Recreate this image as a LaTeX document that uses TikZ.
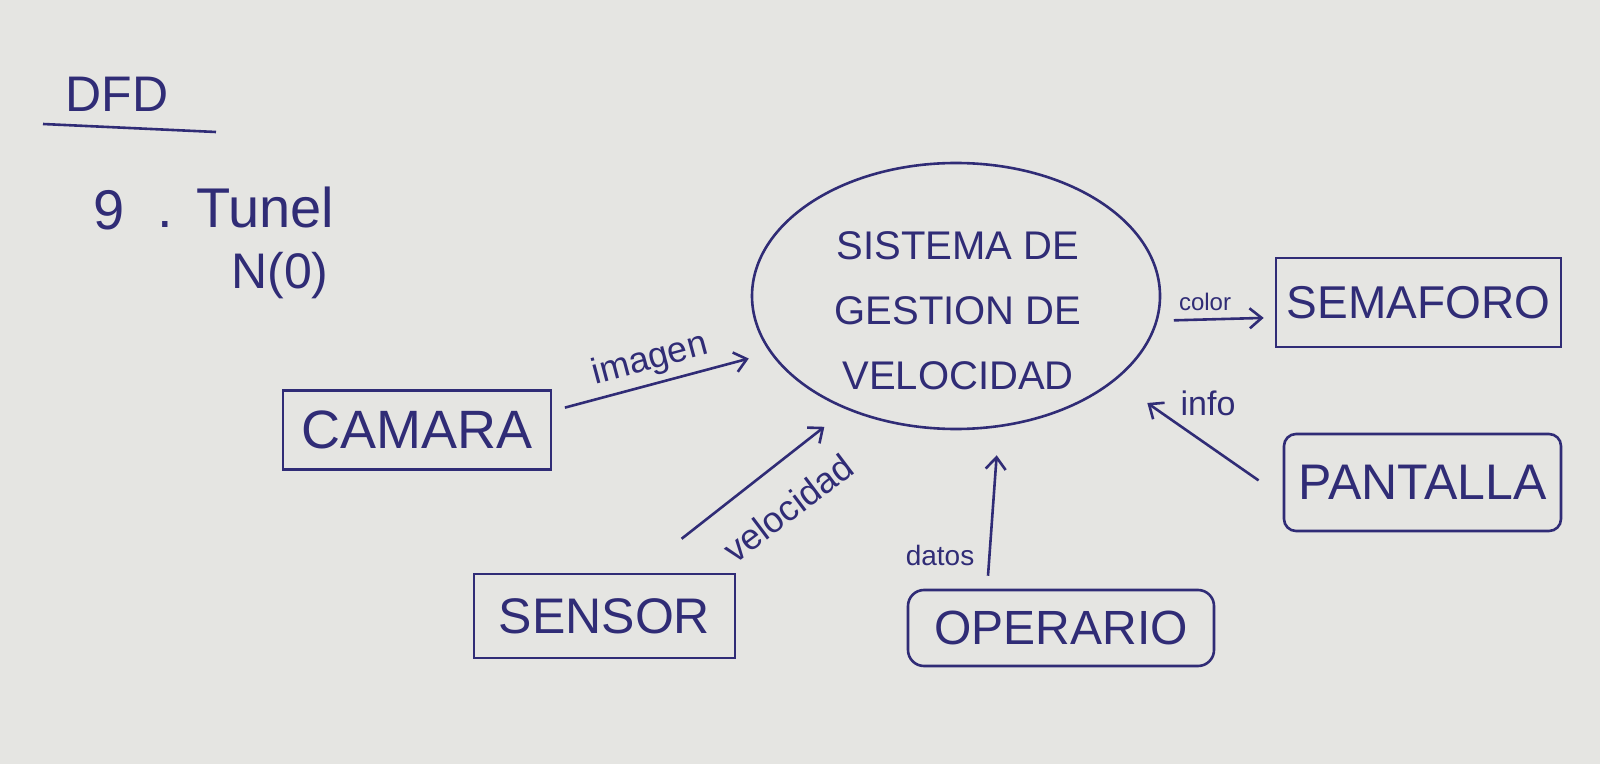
\documentclass[tikz,border=0pt]{standalone}
\usepackage{fontspec}
\setmainfont{Liberation Sans}
\usetikzlibrary{arrows.meta,shapes.geometric}
\definecolor{paper}{RGB}{229,229,226}
\definecolor{ink}{RGB}{48,44,118}
\begin{document}
\begin{tikzpicture}[x=0.5pt,y=-0.5pt,
  entity/.style={draw=ink, line width=1.3pt, text=ink, inner sep=0pt, font=\fontsize{25}{30}\selectfont},
  proc/.style={ellipse, draw=ink, line width=1.3pt, inner sep=0pt, minimum width=204pt, minimum height=133pt},
  flow/.style={draw=ink, line width=1.3pt, -{Straight Barb[length=6pt,width=10pt]}},
  lbl/.style={text=ink, inner sep=0pt}]
\fill[paper] (0,0) rectangle (1600,764);
\useasboundingbox (0,0) rectangle (1600,764);
% title
\node[lbl, font=\fontsize{25}{30}\selectfont] (dfd) at (117,94) {DFD};
\draw[ink, line width=1.3pt] (43,124) coordinate (ul1) -- (216,132) coordinate (ul2);
\node[lbl, font=\fontsize{28}{32}\selectfont] (nine) at (109,210) {9};
\node[lbl, anchor=base, font=\fontsize{28}{32}\selectfont] (dot) at (165,228) {.};
\node[lbl, font=\fontsize{28}{32}\selectfont] (tunel) at (265,207) {Tunel};
\node[lbl, font=\fontsize{25}{30}\selectfont] (n0) at (280,276) {N(0)};
% process
\node[proc] (sys) at (956,296) {};
\node[lbl, align=center, font=\fontsize{20}{32.5}\selectfont] (syslabel) at (958,311) {SISTEMA DE\\GESTION DE\\VELOCIDAD};
% entities
\node[entity, minimum width=134pt, minimum height=39.5pt, font=\fontsize{27}{30}\selectfont] (camara) at (417,430) {CAMARA};
\node[entity, minimum width=130.5pt, minimum height=42pt] (sensor) at (604.5,616) {SENSOR};
\node[entity, rounded corners=8pt, minimum width=153pt, minimum height=38pt, font=\fontsize{24}{30}\selectfont] (operario) at (1061,628) {OPERARIO};
\node[entity, minimum width=142.5pt, minimum height=44.5pt, font=\fontsize{23}{30}\selectfont] (semaforo) at (1418.5,302.5) {SEMAFORO};
\node[entity, rounded corners=6pt, minimum width=138.5pt, minimum height=48.5pt] (pantalla) at (1422.5,482.5) {PANTALLA};
% flows
\draw[flow, shorten <=6.5pt, shorten >=11pt] (camara.8.5) -- (sys.197);
\draw[flow, shorten <=27.5pt, shorten >=14pt] (sensor.52) -- (sys.226.3);
\draw[flow, shorten <=6.5pt, shorten >=14pt] (operario.152.2) -- (sys.288.7);
\draw[flow, shorten <=8pt, shorten >=5.5pt] (sys.353.75) -- (semaforo.186.2);
\draw[flow, shorten <=14.7pt, shorten >=19.5pt] (pantalla.186) -- (sys.332.7);
% flow labels
\node[lbl, rotate=15, font=\fontsize{18}{20}\selectfont] (limagen) at (650,360) {imagen};
\node[lbl, rotate=37, font=\fontsize{18}{20}\selectfont] (lvel) at (788,508) {velocidad};
\node[lbl, font=\fontsize{14}{16}\selectfont] (ldatos) at (940,555) {datos};
\node[lbl, font=\fontsize{12}{14}\selectfont] (lcolor) at (1205,302) {color};
\node[lbl, font=\fontsize{17}{20}\selectfont] (linfo) at (1208,403) {info};
\end{tikzpicture}
\end{document}
